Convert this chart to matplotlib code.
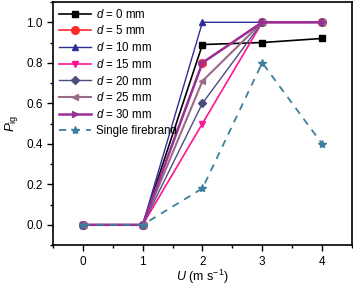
import matplotlib
matplotlib.use('Agg')
import matplotlib.pyplot as plt
from matplotlib.ticker import MultipleLocator

# ─── Data ───
U = [0, 1, 2, 3, 4]
p_d0 = [0, 0, 0.89, 0.90, 0.92]
p_d5 = [0, 0, 0.80, 1.0, 1.0]
p_d10 = [0, 0, 1.0, 1.0, 1.0]
p_d15 = [0, 0, 0.50, 1.0, 1.0]
p_d20 = [0, 0, 0.60, 1.0, 1.0]
p_d25 = [0, 0, 0.71, 1.0, 1.0]
p_d30 = [0, 0, 0.80, 1.0, 1.0]
p_single = [0, 0, 0.18, 0.80, 0.40]

labels = ['$d$ = 0 mm', '$d$ = 5 mm', '$d$ = 10 mm', '$d$ = 15 mm',
          '$d$ = 20 mm', '$d$ = 25 mm', '$d$ = 30 mm']
series = [p_d0, p_d5, p_d10, p_d15, p_d20, p_d25, p_d30]
colors = ['#000000', '#ff2a2a', '#2e2e96', '#ff1493',
          '#4c4c80', '#9a6a88', '#9a2f96']
markers = ['s', 'o', '^', 'v', 'D', '<', '>']
msizes = [5, 5.5, 5, 5, 4, 5, 5]
lws = [1.2, 1.2, 1.0, 1.2, 1.0, 1.5, 1.8]

plt.rcParams['font.family'] = ['Liberation Sans', 'DejaVu Sans']
plt.rcParams['mathtext.fontset'] = 'custom'
plt.rcParams['mathtext.it'] = 'Liberation Sans:italic'
plt.rcParams['mathtext.rm'] = 'Liberation Sans'

fig = plt.figure(figsize=(3.53, 2.86), dpi=100)
ax = fig.add_axes([0.150, 0.143, 0.847, 0.850])

for y, lab, c, m, ms, lw in zip(series, labels, colors, markers, msizes, lws):
    ax.plot(U, y, color=c, marker=m, markersize=ms, linewidth=lw, label=lab)

ax.plot(U, p_single, color='#3d7f9c', linestyle=(0, (4, 3.5)), marker='*',
        markersize=6, linewidth=1.3, label='Single firebrand')

ax.set_xlim(-0.5, 4.5)
ax.set_ylim(-0.1, 1.1)
ax.xaxis.set_major_locator(MultipleLocator(1))
ax.xaxis.set_minor_locator(MultipleLocator(0.5))
ax.yaxis.set_major_locator(MultipleLocator(0.2))
ax.yaxis.set_minor_locator(MultipleLocator(0.1))
ax.tick_params(which='both', direction='out', labelsize=8.5, width=1)
ax.tick_params(which='major', length=4)
ax.tick_params(which='minor', length=2)
for s in ax.spines.values():
    s.set_linewidth(1.2)

ax.set_xlabel('$U$ (m s$^{-1}$)', fontsize=9, labelpad=0.5)
ax.set_ylabel('$P_{\\mathrm{ig}}$', fontsize=9.5, labelpad=4)

ax.legend(loc='upper left', fontsize=8.3, frameon=False, handlelength=2.8,
          labelspacing=0.32, handletextpad=0.4, borderaxespad=0.3,
          borderpad=0.2)

plt.savefig('out.png', dpi=100)
